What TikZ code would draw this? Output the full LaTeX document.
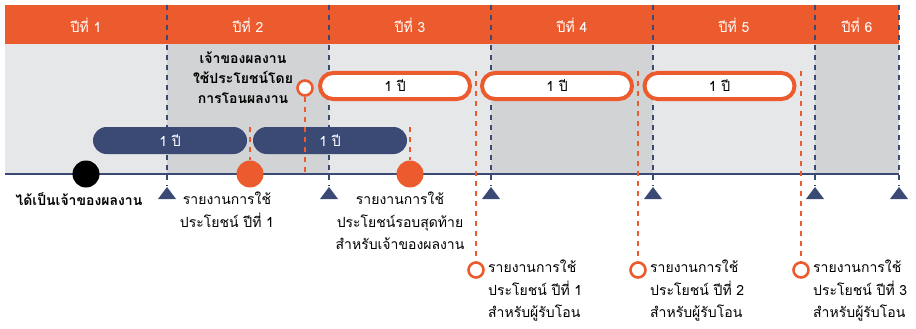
\documentclass[tikz,border=0pt]{standalone}
\usepackage{fontspec}
\setmainfont[Script=Thai]{Loma}
\usetikzlibrary{positioning}
\definecolor{hdorange}{HTML}{EC5B2D}
\definecolor{tlnavy}{HTML}{3B4A75}
\definecolor{bglight}{HTML}{E6E7E8}
\definecolor{bgdark}{HTML}{D1D3D4}
\tikzset{
	navypill/.style={fill=tlnavy, rounded corners=13.5pt, minimum width=154pt, minimum height=27pt, inner sep=0pt, text=white, font=\fontsize{14}{16}\selectfont},
	whitepill/.style={draw=hdorange, line width=4pt, fill=white, rounded corners=13pt, minimum width=150pt, minimum height=26pt, inner sep=0pt, font=\fontsize{14}{16}\selectfont},
	bigdot/.style={circle, minimum size=27pt, inner sep=0pt},
	opendot/.style={circle, draw=hdorange, line width=2.6pt, fill=white, minimum size=15pt, inner sep=0pt},
	navydash/.style={tlnavy, line width=1.2pt, dash pattern=on 5pt off 5pt},
	orangedash/.style={hdorange, line width=1.2pt, dash pattern=on 5pt off 5pt},
	lbl/.style={font=\fontsize{14}{22.5}\selectfont, inner sep=0pt, align=center}
}
\begin{document}
\begin{tikzpicture}[x=1pt, y=-1pt]
	\useasboundingbox[fill=white] (0,0) rectangle (916,329);

	% bands
	\fill[hdorange] (5,5) rectangle (899,44);
	\foreach \i/\c in {0/bglight, 1/bgdark, 2/bglight, 3/bgdark, 4/bglight}
		\fill[\c] (5+162*\i,44) rectangle (167+162*\i,174);
	\fill[bgdark] (815,44) rectangle (899,174);
	\fill[bglight] (5,44) rectangle (167,174);

	% year labels
	\foreach \i/\x in {1/86, 2/248, 3/410, 4/572, 5/734, 6/857}
		\node[lbl, text=white] (yr\i) at (\x,25) {ปีที่ \i};

	% year boundaries
	\foreach \x in {167, 329, 491, 653, 815, 899} {
		\draw[navydash] (\x,5) -- (\x,186);
		\fill[tlnavy] (\x-9,199) -- (\x+9,199) -- (\x,187) -- cycle;
	}
	\draw[tlnavy, line width=1.6pt] (5,174) -- (899,174);

	% owner's two years
	\node[navypill] (own1) at (170,140.5) {1 ปี};
	\node[navypill] (own2) at (330,140.5) {1 ปี};

	% transfer years
	\foreach \i/\x in {1/395, 2/557, 3/719.5}
		\node[whitepill] (tr\i) at (\x,86) {1 ปี};

	% dots on the axis
	\node[bigdot, fill=black] (owndot) at (86,174) {};
	\node[bigdot, fill=hdorange] (rep1dot) at (250,174) {};
	\node[bigdot, fill=hdorange] (repfdot) at (410,174) {};
	\coordinate (rep1top) at (250,127);
	\coordinate (repftop) at (410,127);
	\draw[orangedash] (rep1top) -- (rep1dot);
	\draw[orangedash] (repftop) -- (repfdot);

	% start of transfer
	\node[opendot] (trdot) at (305,88) {};
	\coordinate (traxis) at (305,174);
	\draw[orangedash] (trdot) -- (traxis);

	% reports of the receiver
	\foreach \i/\x in {1/476, 2/638, 3/801} {
		\coordinate (rtop\i) at (\x,71);
		\node[opendot] (rdot\i) at (\x,270) {};
		\draw[orangedash] (rtop\i) -- (rdot\i);
		\node[lbl, align=left, anchor=north west] (rtxt\i) at (\x+12,260) {รายงานการใช้\\ประโยชน์ ปีที่ \i\\สำหรับผู้รับโอน};
	}

	% texts
	\node[lbl, font=\fontsize{14}{20}\selectfont\bfseries, anchor=north] (transtxt) at (243,52) {เจ้าของผลงาน\\ใช้ประโยชน์โดย\\การโอนผลงาน};
	\node[lbl, font=\fontsize{14}{22}\selectfont\bfseries, anchor=north] (owntxt) at (79,192) {ได้เป็นเจ้าของผลงาน};
	\node[lbl, anchor=north] (rep1txt) at (227,192) {รายงานการใช้\\ประโยชน์ ปีที่ 1};
	\node[lbl, anchor=north] (repftxt) at (400,192) {รายงานการใช้\\ประโยชน์รอบสุดท้าย\\สำหรับเจ้าของผลงาน};
\end{tikzpicture}
\end{document}
